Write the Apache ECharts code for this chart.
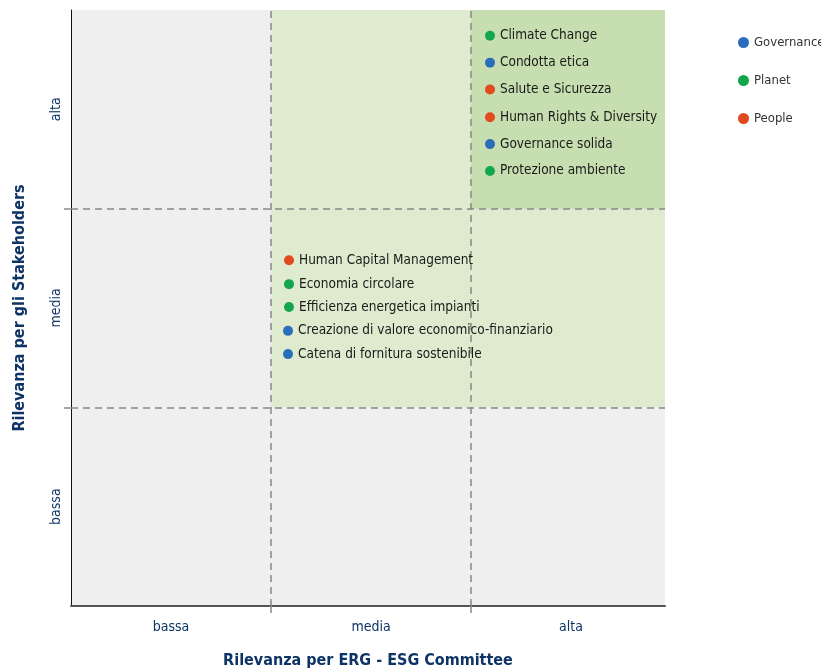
<!DOCTYPE html>
<html>
<head>
<meta charset="utf-8">
<script src="https://cdn.jsdelivr.net/npm/echarts@6/dist/echarts.min.js"></script>
<style>html,body{margin:0;padding:0;background:#fff}#c{width:821px;height:670px}</style>
</head>
<body>
<div id="c"></div>
<script>
const levelLabels = ['bassa', 'media', 'alta'];
const levelPositions = [0.5, 1.5, 2.5];
const dividers = [1, 2];
const groups = ['Governance', 'Planet', 'People'];
const groupColors = ['#2a6ebb', '#14a64e', '#e2491d'];

const topicNames = ['Climate Change', 'Condotta etica', 'Salute e Sicurezza', 'Human Rights & Diversity', 'Governance solida', 'Protezione ambiente',
  'Human Capital Management', 'Economia circolare', 'Efficienza energetica impianti', 'Creazione di valore economico-finanziario', 'Catena di fornitura sostenibile'];
const topicGroup = ['Planet', 'Governance', 'People', 'People', 'Governance', 'Planet',
  'People', 'Planet', 'Planet', 'Governance', 'Governance'];
const erg = [2.095, 2.095, 2.095, 2.095, 2.095, 2.095, 1.09, 1.09, 1.09, 1.085, 1.085];
const stakeholders = [2.87, 2.735, 2.60, 2.46, 2.325, 2.19, 1.74, 1.62, 1.505, 1.385, 1.268];

const font = '"Liberation Sans Narrow", "DejaVu Sans Condensed", "Roboto", sans-serif';
const navy = '#0e3466';
const xMax = 2.97, yMax = 3;

const chart = echarts.init(document.getElementById('c'));

const series = groups.map((g, gi) => ({
  name: g,
  type: 'scatter',
  symbolSize: 10,
  itemStyle: { color: groupColors[gi], opacity: 1 },
  label: {
    show: true, position: 'right', distance: 5,
    formatter: p => p.data[2],
    color: '#1a1a1a', fontSize: 13.5, fontFamily: font
  },
  emphasis: { disabled: true },
  data: topicNames.map((n, i) => [erg[i], stakeholders[i], n, topicGroup[i]]).filter(d => d[3] === g),
  z: 5
}));

const dashStyle = { color: '#888888', type: [7, 5], width: 1.5 };

series.unshift({
  type: 'scatter',
  data: [],
  silent: true,
  markArea: {
    silent: true,
    data: [
      [{ coord: [1, 1], itemStyle: { color: '#deebcf' } }, { coord: [xMax, yMax] }],
      [{ coord: [2, 2], itemStyle: { color: '#c7dfb0' } }, { coord: [xMax, yMax] }]
    ]
  },
  markLine: {
    silent: true,
    symbol: ['none', 'none'],
    label: { show: false },
    lineStyle: dashStyle,
    data: dividers.map(d => [{ coord: [0, d] }, { coord: [xMax, d] }])
      .concat(dividers.map(d => [{ coord: [d, 0] }, { coord: [d, yMax] }]))
  },
  z: 1
});

const labelOf = v => {
  const i = levelPositions.findIndex(p => Math.abs(p - v) < 1e-6);
  return i >= 0 ? levelLabels[i] : '';
};

chart.setOption({
  animation: false,
  grid: { left: 71, top: 10, width: 594, height: 596, show: true, backgroundColor: '#efefef', borderWidth: 0, outerBoundsMode: 'none', containLabel: false },
  legend: {
    data: groups,
    orient: 'vertical',
    left: 733, top: 31,
    itemGap: 25,
    icon: 'circle',
    itemWidth: 11, itemHeight: 11,
    textStyle: { fontSize: 13, color: '#333', fontFamily: font }
  },
  xAxis: {
    type: 'value', min: 0, max: xMax,
    splitLine: { show: false },
    axisTick: { show: true, customValues: dividers, length: 11, lineStyle: dashStyle },
    axisLine: { lineStyle: { color: '#555', width: 2 } },
    axisLabel: { customValues: levelPositions, formatter: labelOf, color: navy, fontSize: 14, fontFamily: font, margin: 14 },
    name: 'Rilevanza per ERG - ESG Committee',
    nameLocation: 'middle', nameGap: 47,
    nameTextStyle: { color: navy, fontSize: 16, fontWeight: 'bold', fontFamily: font }
  },
  yAxis: {
    type: 'value', min: 0, max: yMax,
    splitLine: { show: false },
    axisTick: { show: true, customValues: dividers, length: 10, lineStyle: dashStyle },
    axisLine: { show: true, lineStyle: { color: '#111', width: 1 } },
    axisLabel: { customValues: levelPositions, formatter: labelOf, rotate: 90, color: navy, fontSize: 14, fontFamily: font, margin: 8 },
    name: 'Rilevanza per gli Stakeholders',
    nameLocation: 'middle', nameGap: 43,
    nameTextStyle: { color: navy, fontSize: 16, fontWeight: 'bold', fontFamily: font }
  },
  series: series
});
</script>
</body>
</html>
